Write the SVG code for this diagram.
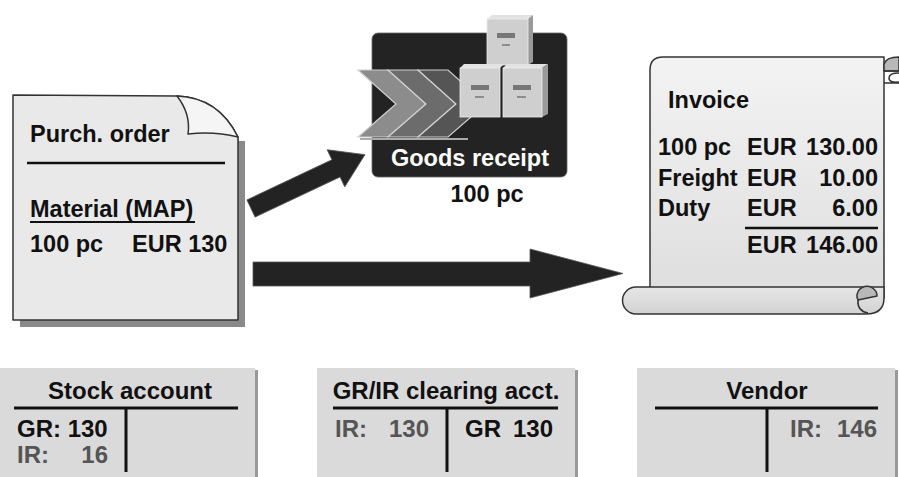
<svg xmlns="http://www.w3.org/2000/svg" width="899" height="477" viewBox="0 0 899 477">
  <defs>
    <linearGradient id="sheetFill" x1="0" y1="0" x2="0" y2="1">
      <stop offset="0" stop-color="#f3f3f3"/>
      <stop offset="1" stop-color="#dedede"/>
    </linearGradient>
    <linearGradient id="rollFill" x1="0" y1="0" x2="0" y2="1">
      <stop offset="0" stop-color="#e6e6e6"/>
      <stop offset="1" stop-color="#d2d2d2"/>
    </linearGradient>
  </defs>
  <style>
    text { font-family: "Liberation Sans", Arial, sans-serif; font-weight: bold; font-size: 23.5px; fill: #111; }
    .grey { fill: #555; }
    .white { fill: #fff; }
    .mid { text-anchor: middle; }
    .end { text-anchor: end; }
    .outline { stroke: #333; stroke-width: 1.5; stroke-linejoin: round; }
    .rule { stroke: #111; stroke-width: 3; }
    .panel { fill: #dadada; }
    .panelShadow { fill: #9a9a9a; }
    .arrow { fill: #232323; stroke: #555; stroke-width: 0.8; }
    .box { fill: #cfcfcf; stroke: #eee; stroke-width: 0.8; }
    .boxSide { fill: #9a9a9a; }
    .boxTop { fill: #e2e2e2; }
    .label { fill: #777; }
    .dash { stroke: #777; stroke-width: 1.5; }
  </style>

  <rect width="899" height="477" fill="#fff"/>

  <!-- Purchase order document with folded corner -->
  <g id="purchase-order">
    <path d="M20,320 L238,320 L238,141 L245,141 L245,327 L20,327 Z" fill="#8a8a8a"/>
    <path d="M195,136 Q215,133 238,137 L240,143 Q216,139 197,141 Z" fill="#8a8a8a"/>
    <path class="outline" d="M13,95 L177,96 Q218.5,97.5 238,137 L238,320 L13,320 Z" fill="#e9e9e9"/>
    <path class="outline" d="M177,96 Q191,114 188,134 Q214,131 238,137 Q218.5,97.5 177,96 Z" fill="#f5f5f5"/>
    <text x="30" y="142">Purch. order</text>
    <line x1="27" y1="163" x2="225" y2="163" stroke="#111" stroke-width="2.5"/>
    <text x="30" y="217">Material (MAP)</text>
    <line x1="30" y1="222" x2="195" y2="222" stroke="#111" stroke-width="2"/>
    <text x="30" y="252">100 pc</text>
    <text x="132" y="252">EUR 130</text>
  </g>

  <!-- Goods receipt symbol -->
  <g id="goods-receipt">
    <rect x="372" y="33" width="195" height="144" rx="6" fill="#232323" stroke="#666" stroke-width="0.8"/>
    <line x1="360" y1="139" x2="468" y2="139" stroke="#aaa" stroke-width="2"/>
    <polygon points="358,70 388,70 426,104 388,137 358,137 396,104" fill="#8c8c8c" stroke="#d0d0d0" stroke-width="1.2"/>
    <polygon points="388,70 418,70 456,104 418,137 388,137 426,104" fill="#6c6c6c" stroke="#d0d0d0" stroke-width="1.2"/>
    <polygon points="418,70 448,70 486,104 448,137 418,137 456,104" fill="#555" stroke="#d0d0d0" stroke-width="1.2"/>
    <!-- top box -->
    <polygon class="boxTop" points="487,19 492,15 533,15 528,19"/>
    <polygon class="boxSide" points="528,19 533,15 533,62 528,65"/>
    <rect class="box" x="487" y="19" width="41" height="46"/>
    <rect class="label" x="497" y="33" width="18" height="5"/>
    <line class="dash" x1="502" y1="45" x2="510" y2="45"/>
    <!-- lower left box -->
    <polygon class="boxTop" points="460,68 464,64 504,64 500,68"/>
    <rect class="box" x="460" y="68" width="40" height="49"/>
    <rect class="label" x="471" y="85" width="18" height="5"/>
    <line class="dash" x1="475" y1="97" x2="484" y2="97"/>
    <!-- lower right box -->
    <polygon class="boxTop" points="503,68 507,64 548,64 542,68"/>
    <polygon class="boxSide" points="542,68 548,64 548,114 542,117"/>
    <rect class="box" x="503" y="68" width="39" height="49"/>
    <rect class="label" x="513" y="85" width="18" height="5"/>
    <line class="dash" x1="517" y1="97" x2="526" y2="97"/>
    <text class="white mid" x="470" y="166">Goods receipt</text>
    <text class="mid" x="487" y="202">100 pc</text>
  </g>

  <!-- Invoice scroll -->
  <g id="invoice">
    <path class="outline" d="M650,298 L650,70 Q650,57 663,57 L884,57 L884,298 Z" fill="url(#sheetFill)"/>
    <path class="outline" d="M884,71 L884,64 Q886,57 899,57 L899,71 Z" fill="#b8b8b8"/>
    <path class="outline" d="M884,71 L899,71 M884,83 L899,83 M899,73 Q889,73 889,78 Q889,83 899,82" fill="none"/>
    <path class="outline" d="M884,287 L636,287 A13.5,13.5 0 0 0 636,314 L866,314 Q884,314 884,298 Z" fill="url(#rollFill)"/>
    <path class="outline" d="M858,300 A10,9.5 0 1 1 877,296 Z" fill="#b8b8b8"/>
    <path class="outline" d="M858,300 Q857,311 868,313" fill="none"/>
    <text x="668" y="108">Invoice</text>
    <text x="658" y="155">100 pc</text>
    <text x="658" y="186">Freight</text>
    <text x="658" y="216">Duty</text>
    <text x="747" y="155">EUR</text>
    <text x="747" y="186">EUR</text>
    <text x="747" y="216">EUR</text>
    <text class="end" x="878" y="155">130.00</text>
    <text class="end" x="878" y="186">10.00</text>
    <text class="end" x="878" y="216">6.00</text>
    <line x1="745" y1="228" x2="878" y2="228" stroke="#111" stroke-width="2.5"/>
    <text x="747" y="253">EUR</text>
    <text class="end" x="878" y="253">146.00</text>
  </g>

  <!-- Flow arrows -->
  <g id="connectors">
    <polygon class="arrow" transform="translate(251,208.5) rotate(-25.3)" points="0,-9.5 94,-9.5 94,-20.5 126,0 94,20.5 94,9.5 0,9.5"/>
    <polygon class="arrow" points="253,262 530,262 530,249 623,273.5 530,298 530,286 253,286"/>
  </g>

  <!-- T-accounts -->
  <g id="stock-account">
    <rect class="panelShadow" x="0" y="370" width="258" height="107"/>
    <rect class="panel" x="0" y="368" width="255" height="109"/>
    <text class="mid" x="130" y="399" style="font-size:24px">Stock account</text>
    <line class="rule" x1="14" y1="408" x2="238" y2="408"/>
    <line class="rule" x1="126" y1="408" x2="126" y2="472"/>
    <text x="17" y="437" style="font-size:24px">GR: 130</text>
    <text class="grey" x="17" y="463" style="font-size:24px">IR:</text>
    <text class="grey end" x="108" y="463" style="font-size:24px">16</text>
  </g>

  <g id="gr-ir-clearing">
    <rect class="panelShadow" x="317" y="370" width="261" height="107"/>
    <rect class="panel" x="317" y="368" width="258" height="109"/>
    <text class="mid" x="446" y="399" style="font-size:24px">GR/IR clearing acct.</text>
    <line class="rule" x1="333" y1="408" x2="558" y2="408"/>
    <line class="rule" x1="447" y1="408" x2="447" y2="472"/>
    <text class="grey" x="335" y="437" style="font-size:24px">IR:</text>
    <text class="grey end" x="429" y="437" style="font-size:24px">130</text>
    <text x="465" y="437" style="font-size:24px">GR</text>
    <text class="end" x="553" y="437" style="font-size:24px">130</text>
  </g>

  <g id="vendor">
    <rect class="panelShadow" x="637" y="370" width="261" height="107"/>
    <rect class="panel" x="637" y="368" width="258" height="109"/>
    <text class="mid" x="767" y="399" style="font-size:24px">Vendor</text>
    <line class="rule" x1="655" y1="408" x2="878" y2="408"/>
    <line class="rule" x1="767" y1="408" x2="767" y2="472"/>
    <text class="grey" x="790" y="437" style="font-size:24px">IR:</text>
    <text class="grey end" x="877" y="437" style="font-size:24px">146</text>
  </g>
</svg>
